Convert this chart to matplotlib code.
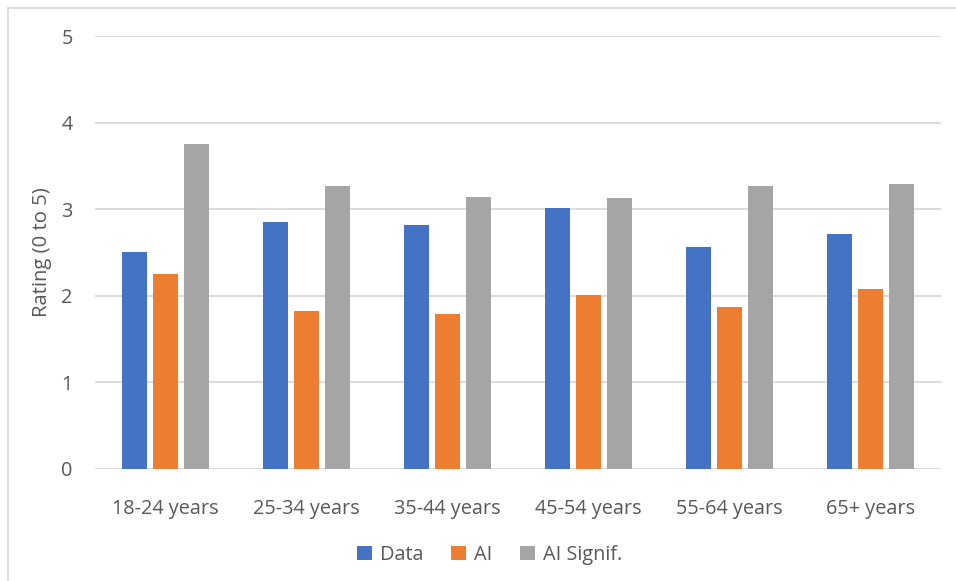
import numpy as np
import matplotlib.pyplot as plt
from matplotlib.lines import Line2D
from matplotlib.patches import Patch

# age groups and mean ratings per series
age_groups = ["18-24 years", "25-34 years", "35-44 years", "45-54 years", "55-64 years", "65+ years"]
data_vals = [2.50, 2.85, 2.82, 3.01, 2.56, 2.71]
ai_vals = [2.25, 1.82, 1.79, 2.01, 1.87, 2.08]
ai_signif_vals = [3.75, 3.27, 3.14, 3.13, 3.27, 3.29]

series_names = ["Data", "AI", "AI Signif."]
colors = ["#4472C4", "#ED7D31", "#A5A5A5"]
text_col = "#595959"

plt.rcParams['font.family'] = ['Open Sans', 'DejaVu Sans']

fig = plt.figure(figsize=(9.56, 5.81), dpi=100)
ax = fig.add_axes([0.0994, 0.1933, 0.8850, 0.7447])

x = np.arange(len(age_groups))
width = 0.177
step = 0.22
for i, (vals, c) in enumerate(zip([data_vals, ai_vals, ai_signif_vals], colors)):
    ax.bar(x + (i - 1) * step, vals, width, color=c, zorder=3, label=series_names[i])

ax.set_xlim(-0.5, len(age_groups) - 0.5)
ax.set_ylim(0, 5)
ax.set_yticks(range(6))
ax.yaxis.grid(True, color="#D9D9D9", linewidth=1.3, zorder=0)
for s in ax.spines.values():
    s.set_visible(False)
ax.tick_params(axis='both', length=0, labelsize=14.3, colors=text_col)
ax.tick_params(axis='y', pad=16)
ax.tick_params(axis='x', pad=22)
ax.set_xticks(x)
ax.set_xticklabels(age_groups)
ax.set_ylabel("Rating (0 to 5)", fontsize=14.6, color=text_col, labelpad=7)

# legend with square swatches under the axis
handles = [Patch(facecolor=c, edgecolor='none') for c in colors]
fig.legend(handles, series_names, loc='center', bbox_to_anchor=(0.512, 0.045), ncol=3,
           frameon=False, fontsize=14.3, labelcolor=text_col, handlelength=0.75,
           handleheight=0.75, handletextpad=0.4, columnspacing=1.4)

# light frame line along the top and left of the chart area
fig.add_artist(Line2D([0.0085, 1.0], [0.986, 0.986], transform=fig.transFigure,
                      color="#D9D9D9", linewidth=1.2))
fig.add_artist(Line2D([0.0085, 0.0085], [0.0, 0.986], transform=fig.transFigure,
                      color="#D9D9D9", linewidth=1.2))

fig.savefig("out.png", dpi=100)
